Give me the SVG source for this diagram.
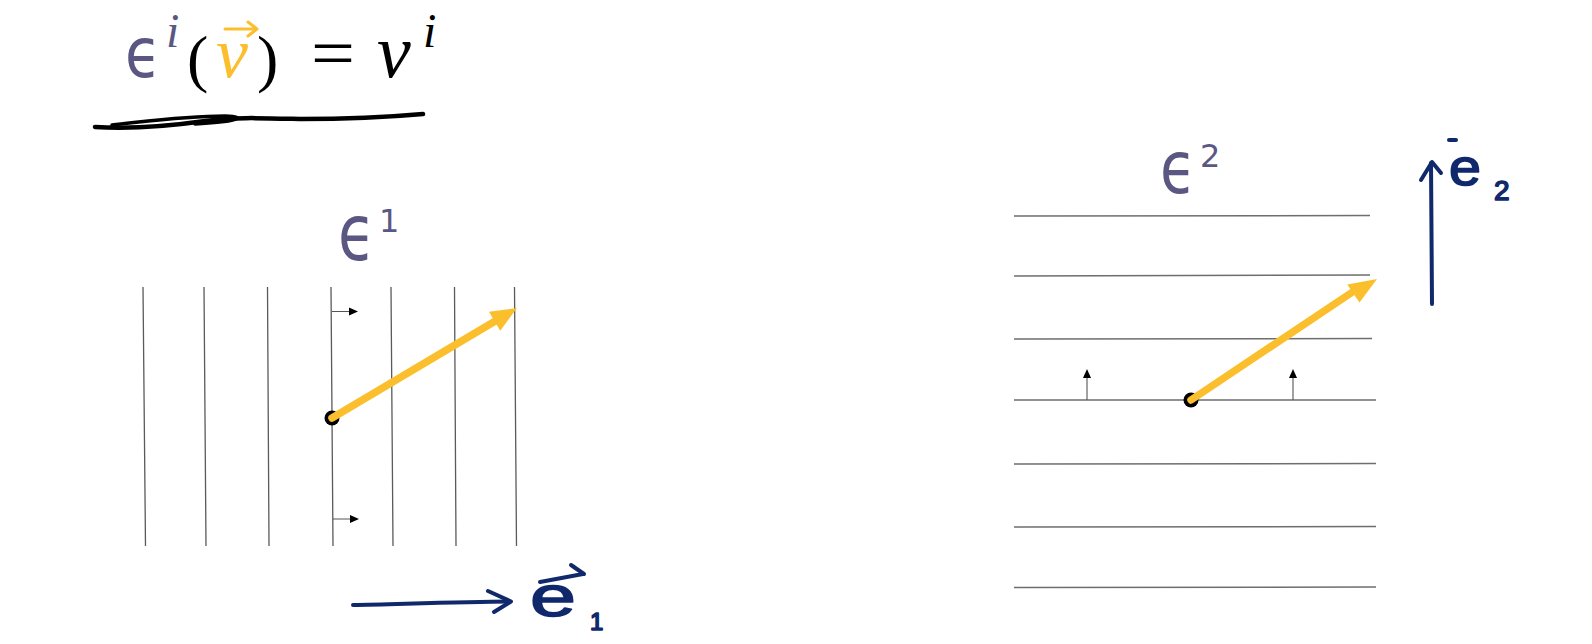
<svg xmlns="http://www.w3.org/2000/svg" width="1592" height="644" viewBox="0 0 1592 644">
<defs>
<style>
.math{font-family:"Liberation Serif","DejaVu Serif",serif;font-style:italic}
.eps{font-family:"DejaVu Sans","Noto Sans",sans-serif;fill:#5b5783}
.grid{stroke:#5a5a5a;stroke-width:1.3;fill:none}
.hgrid{stroke:#6e6e6e;stroke-width:1.5;fill:none}
.small{stroke:#555;stroke-width:1.1;fill:none}
.head{fill:#000}
.yel{stroke:#fbbf2d;stroke-width:7.5;stroke-linecap:round;fill:none}
.yhead{fill:#fbbf2d}
.ink{stroke:#10296c;stroke-width:4;stroke-linecap:round;stroke-linejoin:round;fill:none}
.inktext{font-family:"Liberation Sans","DejaVu Sans",sans-serif;fill:#10296c;stroke:#10296c;stroke-width:1.6;stroke-linejoin:round}
</style>
</defs>
<rect width="1592" height="644" fill="#fff"/>

<g id="title">
<text class="eps" font-size="56" transform="translate(125,77) scale(1.05,1.25)">ϵ</text>
<text x="166" y="47" class="math" font-size="48" fill="#5b5783">i</text>
<text x="187" y="80" font-family="Liberation Serif,serif" font-size="64" fill="#000">(</text>
<text x="216" y="77" class="math" font-size="72" fill="#fbbf2d">v</text>
<path d="M225,29 L256,29 M248,22 L257,29 L248,36" stroke="#fbbf2d" stroke-width="3" fill="none" stroke-linecap="round" stroke-linejoin="round"/>
<text x="257" y="80" font-family="Liberation Serif,serif" font-size="64" fill="#000">)</text>
<text x="311" y="77" font-family="Liberation Serif,serif" font-size="70" fill="#000" textLength="44" lengthAdjust="spacingAndGlyphs">=</text>
<text x="377" y="77" class="math" font-size="76" fill="#000">v</text>
<text x="423" y="47" class="math" font-size="48" fill="#000">i</text>
<path d="M95,127 C130,129 170,126 205,121 C235,117 260,118 300,119 C350,119 390,117 423,114" stroke="#000" stroke-width="4.5" fill="none" stroke-linecap="round"/>
<path d="M112,125 C150,121 185,116 225,116 C250,117 235,122 195,124" stroke="#000" stroke-width="3.5" fill="none" stroke-linecap="round"/>
</g>

<g id="label-eps1">
<text class="eps" font-size="58" transform="translate(338,260) scale(1.05,1.35)">ϵ</text>
<text x="379" y="232" class="eps" font-size="32">1</text>
</g>

<g id="grid-vertical">
<path class="grid" d="M143,287 L145.5,546 M204,287 L206,546 M267.5,287 L269,546 M331,287 L333,546 M391,287 L393,546 M454.5,287 L456,546 M514.5,287 L516.5,546"/>
</g>

<g id="normals-left">
<path class="small" d="M332,311.5 L350,311.5 M333,519 L351,519"/>
<polygon class="head" points="358,311.5 349,307.5 349,315.5"/>
<polygon class="head" points="359,519 350,515 350,523"/>
</g>

<g id="vector-left">
<circle cx="332" cy="418" r="7.5" fill="#000"/>
<path class="yel" d="M332,418 L497,320"/>
<polygon class="yhead" points="517,308 500.2,330.8 489,311.8"/>
</g>

<g id="basis-e1">
<path class="ink" d="M353,605 C400,604 460,602 510,601.5"/>
<path class="ink" d="M488,591 L511,601.5 L494,612"/>
<text x="530" y="616" class="inktext" font-size="58" textLength="46" lengthAdjust="spacingAndGlyphs">e</text>
<path class="ink" d="M540,582 L583,574 M571,565 L584,574" stroke-width="3.5"/>
<text x="590" y="630" class="inktext" font-size="24">1</text>
</g>

<g id="label-eps2">
<text class="eps" font-size="56" transform="translate(1160,193) scale(1.05,1.3)">ϵ</text>
<text x="1200" y="167" class="eps" font-size="32">2</text>
</g>

<g id="grid-horizontal">
<path class="hgrid" d="M1014,216 L1370,215.5 M1014,276 L1370,275 M1014,339 L1372,338.5 M1014,400 L1376,400 M1014,464 L1376,463.5 M1014,527 L1376,526.5 M1014,587.5 L1376,587"/>
</g>

<g id="normals-right">
<path class="small" d="M1087,400 L1087,378 M1293,400 L1293,378"/>
<polygon class="head" points="1087,369 1083,378 1091,378"/>
<polygon class="head" points="1293,369 1289,378 1297,378"/>
</g>

<g id="vector-right">
<circle cx="1191" cy="400" r="7.5" fill="#000"/>
<path class="yel" d="M1191,400 L1354,291"/>
<polygon class="yhead" points="1377,279 1359.5,302.6 1347.3,284.4"/>
</g>

<g id="basis-e2">
<path class="ink" d="M1432,304 L1431,163"/>
<path class="ink" d="M1421,180 L1432,162 L1441,173"/>
<text x="1449" y="185" class="inktext" font-size="52" textLength="32" lengthAdjust="spacingAndGlyphs">e</text>
<path class="ink" d="M1449,140 L1456,140" stroke-width="3"/>
<text x="1494" y="200" class="inktext" font-size="28">2</text>
</g>
</svg>
